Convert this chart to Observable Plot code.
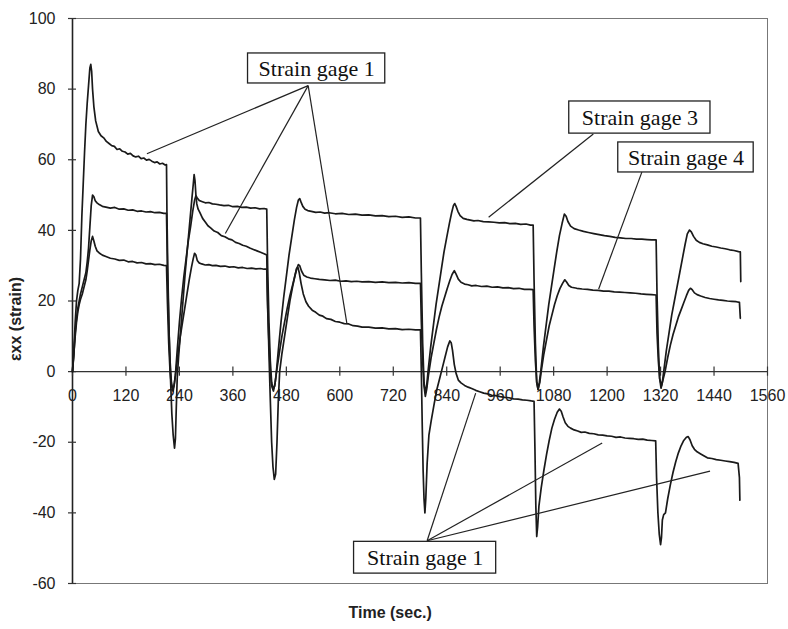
<!DOCTYPE html>
<html><head><meta charset="utf-8">
<script src="https://cdn.jsdelivr.net/npm/d3@7"></script>
<script src="https://cdn.jsdelivr.net/npm/@observablehq/plot@0.6"></script>
<style>body{margin:0;background:#fff}</style>
</head><body><div id="chart"></div>
<script>
const xTicks = [0,120,240,360,480,600,720,840,960,1080,1200,1320,1440,1560];
const yTicks = [-60,-40,-20,0,20,40,60,80,100];

// Strain gage 1 : [time (s), strain]
const gage1 = [[0,0],[3,6],[6,14],[9,20],[12,23],[15,25],[18,32],[21,44],[24,53],[27,62],[30,70],[33,76],[36,81],[39,86],[41,87],[43,85],[45,80],[48,75],[52,71],
[58,68],[64,66.8],[70,66.2],[76,65.2],[82,64.6],[88,64.0],[94,63.8],[100,62.9],[106,63.1],[112,62.4],[118,62.2],[124,61.6],[130,61.8],[136,61.1],[142,60.8],[148,61.0],[154,60.3],[160,60.5],[166,59.9],[172,60.1],[178,59.6],[184,59.2],[190,59.4],[196,58.8],[202,59.0],[208,58.5],[211,58.6],
[212,45],[214,28],[217,10],[220,-2],[223,-12],[226,-18],[229,-21.7],[231,-19],[233,-10],[235,-2],
[238,4],[243,12],[248,20],[253,28],[258,35],[263,42],[268,49],[271,53],[273,55.8],[275,54],[277,50],[279,47.5],[282,46],[286,45],[292,43.4],[298,42.4],[304,41.3],[310,40.7],[318,39.8],[326,39.4],[334,38.5],[342,38.2],[350,37.6],[358,37.3],[366,36.6],[374,36.3],[382,35.8],[390,35.5],[398,35.0],[406,34.6],[414,34.2],[422,33.8],[430,33.4],[436,33.0],
[438,20],[441,5],[444,-8],[447,-20],[450,-27],[453,-30.5],[456,-29],[459,-20],[462,-8],[465,0],
[470,5],[476,10],[482,15],[488,20],[494,24],[499,27],[503,29.2],[506,29.5],[509,28],[513,25],[518,22],[524,19.8],[530,18.5],[538,17.4],[546,16.8],[554,16.0],[562,15.7],[570,15.0],[580,14.8],[590,14.2],[600,14.0],[610,13.6],[620,13.5],[630,13.0],[640,12.9],[650,12.6],[665,12.6],[680,12.3],[695,12.4],[710,12.1],[725,12.2],[740,11.9],[755,12.0],[770,11.8],[781,11.8],
[783,0],[785,-15],[787,-28],[789,-36],[791,-40],[793,-36],[796,-26],[800,-18],
[805,-14],[812,-9],[818,-5],[824,-2],[830,1],[836,4],[842,7],[847,8.7],[850,8.2],[853,6],[857,2],[861,-0.5],[866,-2.4],[872,-3.2],[880,-3.9],[888,-4.4],[896,-4.8],[905,-5.3],[914,-5.7],[923,-6.1],[932,-6.3],[941,-6.7],[950,-6.8],[960,-7.1],[970,-7.3],[980,-7.4],[990,-7.7],[1000,-7.8],[1010,-8.0],[1020,-8.1],[1030,-8.3],[1036,-8.4],
[1038,-22],[1040,-38],[1042,-46.7],[1044,-44],[1047,-38],
[1052,-33],[1058,-28],[1064,-23.5],[1070,-19.5],[1076,-16],[1082,-13.5],[1088,-11.5],[1093,-10.6],[1097,-11.2],[1101,-12.8],[1106,-14.5],[1112,-15.5],[1118,-16.0],[1126,-16.5],[1134,-16.8],[1142,-17.2],[1150,-17.1],[1160,-17.5],[1170,-17.6],[1180,-17.9],[1190,-18.0],[1200,-18.2],[1210,-18.3],[1220,-18.6],[1230,-18.5],[1240,-18.8],[1250,-18.9],[1260,-19.0],[1270,-19.2],[1280,-19.1],[1290,-19.4],[1300,-19.5],[1309,-19.6],
[1311,-30],[1314,-40],[1317,-46],[1320,-49],[1322,-47],[1324,-42],[1327,-40.5],[1331,-40],
[1336,-36],[1342,-32],[1348,-28.5],[1354,-25.5],[1360,-23],[1366,-21],[1372,-19.5],[1378,-18.6],[1382,-18.4],[1386,-19.3],[1391,-21],[1396,-22],[1402,-22.7],[1410,-23.3],[1418,-23.9],[1425,-24.4],[1435,-24.6],[1445,-24.9],[1455,-25.1],[1465,-25.3],[1475,-25.5],[1485,-25.7],[1494,-26.0],[1497,-30],[1498,-36.4]];

// Strain gage 3
const gage3 = [[0,0],[3,5],[6,11],[9,15],[12,18],[15,20],[18,22],[22,24],[26,26],[30,28],[33,31],[36,35],[39,41],[42,47],[45,50],[48,49.5],[51,48.4],[55,47.8],[60,47.3],[67,46.8],[75,46.6],[85,46.3],[95,46.5],[105,46.0],[115,46.1],[125,45.7],[135,45.8],[145,45.4],[155,45.5],[165,45.2],[175,45.3],[185,45.0],[195,45.1],[205,44.8],[211,44.8],
[213,30],[216,14],[219,3],[222,-3],[225,-5],[228,-4],[231,-1],
[235,6],[240,14],[245,21],[250,27],[255,32],[260,37],[265,41],[270,45.5],[274,48.5],[277,49.8],[280,49.2],[284,48.5],[290,48.2],[298,47.8],[306,47.9],[314,47.5],[322,47.4],[330,47.2],[340,47.0],[350,47.1],[360,46.7],[370,46.8],[380,46.5],[390,46.6],[400,46.3],[410,46.4],[420,46.1],[430,46.2],[436,46.0],
[438,30],[441,14],[444,3],[447,-3],[450,-5],[454,-4],[457,-1],
[462,6],[468,14],[474,21],[480,27],[486,33],[492,38],[498,43],[503,46.5],[507,48.6],[510,49],[513,48],[517,46.8],[522,46],[528,45.6],[536,45.4],[546,45.1],[556,45.2],[566,44.9],[576,45.0],[590,44.7],[605,44.8],[620,44.5],[635,44.6],[650,44.3],[665,44.4],[680,44.1],[695,44.2],[710,43.9],[725,44.0],[740,43.7],[755,43.8],[770,43.5],[781,43.5],
[783,28],[786,8],[789,-3],[792,-6],[795,-4],[798,0],
[804,7],[810,13],[816,19],[822,24],[828,29],[834,34],[840,38],[846,42],[851,45],[855,47],[858,47.6],[861,46.8],[865,45.4],[870,44.2],[877,43.4],[885,43.1],[893,42.9],[901,42.7],[910,42.8],[922,42.5],[934,42.4],[946,42.3],[958,42.1],[970,42.2],[982,41.9],[994,42.0],[1006,41.7],[1018,41.8],[1028,41.5],[1034,41.5],
[1036,26],[1039,8],[1042,-3],[1045,-5],[1048,-3],[1051,0],
[1057,7],[1063,13],[1069,19],[1075,24],[1081,29],[1087,34],[1093,38.5],[1099,42],[1104,44.6],[1108,44],[1112,42.5],[1118,41.2],[1126,40.5],[1136,40.1],[1147,39.7],[1158,39.4],[1170,39.1],[1182,38.8],[1194,38.5],[1206,38.3],[1218,38.0],[1230,37.9],[1242,37.7],[1254,37.7],[1266,37.5],[1278,37.5],[1290,37.4],[1300,37.3],[1310,37.3],
[1312,22],[1315,7],[1318,-2],[1321,-4.7],[1324,-3],[1327,0],
[1333,6],[1339,11],[1345,16],[1351,20],[1357,24],[1363,28],[1369,32],[1375,36],[1380,39],[1385,40.1],[1389,39.6],[1394,38.3],[1400,37.2],[1407,36.6],[1415,36.2],[1425,35.9],[1435,35.5],[1445,35.3],[1455,35.0],[1465,34.8],[1475,34.5],[1485,34.3],[1495,34.0],[1499,33.9],[1500,25.5]];

// Strain gage 4
const gage4 = [[0,0],[3,5],[6,10],[9,14],[12,17],[15,19],[18,20.5],[22,22],[26,24],[30,26],[33,28.5],[36,31.5],[39,34.5],[42,37],[45,38.3],[48,37],[51,35.5],[55,34.2],[60,33.6],[67,33.0],[75,32.6],[85,32.1],[95,31.9],[105,31.5],[115,31.6],[125,31.1],[135,31.2],[145,30.8],[155,30.9],[165,30.5],[175,30.6],[185,30.3],[195,30.4],[205,30.1],[211,30.0],
[213,20],[216,8],[219,0],[222,-4],[226,-5.5],[229,-3],[232,0],
[237,5],[242,10],[247,14],[252,18],[257,22],[262,26],[267,29.5],[271,32],[274,33.5],[277,33],[280,31.5],[284,30.8],[290,30.5],[298,30.2],[306,30.3],[314,30.0],[322,30.1],[332,29.8],[342,29.9],[352,29.6],[362,29.7],[372,29.4],[382,29.5],[392,29.2],[402,29.3],[412,29.1],[422,29.2],[430,29.0],[436,29.0],
[438,18],[441,8],[444,0],[447,-4],[451,-5.5],[455,-3],[458,0],
[464,5],[470,10],[476,14],[482,18],[488,21.5],[494,24.5],[499,27],[503,29],[507,30.3],[510,30],[514,28.5],[519,27.3],[526,26.8],[534,26.5],[544,26.3],[554,26.1],[566,26.0],[578,25.8],[590,25.9],[602,25.6],[614,25.7],[626,25.5],[638,25.6],[650,25.4],[665,25.5],[680,25.3],[695,25.4],[710,25.2],[725,25.3],[740,25.1],[755,25.2],[770,25.0],[781,25.0],
[783,14],[786,3],[789,-4],[792,-7],[795,-5],[799,-1],
[805,4],[811,8],[817,12],[823,15.5],[829,18.5],[835,21],[841,23.5],[847,25.8],[852,27.5],[857,28.6],[861,27.6],[866,26.2],[872,25.3],[880,24.8],[888,24.6],[896,24.3],[906,24.4],[918,24.1],[930,24.2],[942,23.9],[954,24.0],[966,23.7],[978,23.8],[990,23.5],[1002,23.6],[1014,23.3],[1026,23.3],[1034,23.2],
[1036,13],[1039,3],[1042,-3],[1045,-5],[1049,-3],[1052,0],
[1058,5],[1064,9],[1070,13],[1076,16],[1082,19],[1088,21.5],[1094,23.5],[1100,25],[1105,26],[1109,25.4],[1114,24.4],[1120,23.9],[1132,23.6],[1144,23.4],[1156,23.3],[1168,23.1],[1180,23.0],[1192,22.8],[1204,22.8],[1216,22.6],[1228,22.5],[1240,22.4],[1252,22.3],[1264,22.2],[1276,22.0],[1288,21.9],[1300,21.8],[1310,21.7],
[1312,11],[1315,3],[1318,-2],[1322,-4],[1326,-2],[1330,0],
[1336,4],[1342,7.5],[1348,10.5],[1354,13],[1360,15.5],[1366,17.5],[1372,19.5],[1378,21.5],[1383,23],[1387,23.6],[1391,23.2],[1396,22.3],[1402,21.8],[1410,21.4],[1420,21.0],[1430,20.7],[1440,20.5],[1450,20.3],[1460,20.2],[1470,20.0],[1480,19.9],[1490,19.8],[1497,19.6],[1499,15.1]];

// Annotation boxes (data units)
const labelBoxes = [
  {text: "Strain gage 1", t1: 394, t2: 702, v1: 81.6, v2: 90.1},
  {text: "Strain gage 3", t1: 1115, t2: 1432, v1: 67.4, v2: 76.5},
  {text: "Strain gage 4", t1: 1225, t2: 1529, v1: 56.4, v2: 64.9},
  {text: "Strain gage 1", t1: 632, t2: 951, v1: -57.2, v2: -48.2}
];
// Leader lines (data units)
const leaders = [
  {t1: 529, v1: 81, t2: 167, v2: 61.7},
  {t1: 529, v1: 81, t2: 343, v2: 39.1},
  {t1: 529, v1: 81, t2: 616, v2: 13.5},
  {t1: 1169, v1: 67.3, t2: 934, v2: 43.7},
  {t1: 1278, v1: 56.5, t2: 1181, v2: 23.4},
  {t1: 796, v1: -47.9, t2: 905, v2: -6.1},
  {t1: 796, v1: -47.9, t2: 1189, v2: -20.2},
  {t1: 796, v1: -47.9, t2: 1431, v2: -28.2}
];
const xTitle = [{label: "Time (sec.)", t: 713}];
const yTitle = [{label: "εxx (strain)", v: 3}];

const lineOpts = {x: d => d[0], y: d => d[1], stroke: "#1a1a1a", strokeWidth: 1.7};

const chart = Plot.plot({
  width: 788, height: 629,
  marginLeft: 72, marginRight: 21, marginTop: 18, marginBottom: 46,
  x: {domain: [0, 1560], axis: null},
  y: {domain: [-60, 100], axis: null},
  style: {background: "#fff", fontFamily: "'Liberation Sans', Arial, sans-serif", color: "#222"},
  marks: [
    Plot.frame({stroke: "#777", strokeWidth: 1}),
    Plot.ruleY([0], {stroke: "#333", strokeWidth: 1.2}),
    Plot.ruleX([0], {stroke: "#222", strokeWidth: 1.6}),
    Plot.ruleX(xTicks, {x: d => d, y1: -1.3, y2: 1.3, stroke: "#333", strokeWidth: 1.2}),
    Plot.ruleY(yTicks, {y: d => d, x1: -9, x2: 9, stroke: "#333", strokeWidth: 1.2}),
    Plot.text(xTicks, {x: d => d, y: 0, dy: 18, lineAnchor: "top", text: d => String(d), fontSize: 16, fill: "#222"}),
    Plot.text(yTicks, {x: 0, y: d => d, dx: -17, textAnchor: "end", text: d => String(d), fontSize: 16, fill: "#222"}),
    Plot.line(gage4, lineOpts),
    Plot.line(gage3, lineOpts),
    Plot.line(gage1, lineOpts),
    Plot.link(leaders, {x1: "t1", y1: "v1", x2: "t2", y2: "v2", stroke: "#222", strokeWidth: 1.2}),
    Plot.rect(labelBoxes, {x1: "t1", x2: "t2", y1: "v1", y2: "v2", fill: "white", stroke: "#222", strokeWidth: 1.3}),
    Plot.text(labelBoxes, {x: d => (d.t1 + d.t2) / 2, y: d => (d.v1 + d.v2) / 2, text: "text", fontSize: 22, fontFamily: "'Liberation Serif', 'Times New Roman', serif", fill: "#111"}),
    Plot.text(xTitle, {x: "t", frameAnchor: "bottom", dy: 34, text: "label", fontSize: 16, fontWeight: "bold", fill: "#222"}),
    Plot.text(yTitle, {y: "v", frameAnchor: "left", dx: -57, rotate: -90, text: "label", fontSize: 16, fontWeight: "bold", fill: "#222"})
  ]
});
document.getElementById("chart").append(chart);
</script>
</body></html>
